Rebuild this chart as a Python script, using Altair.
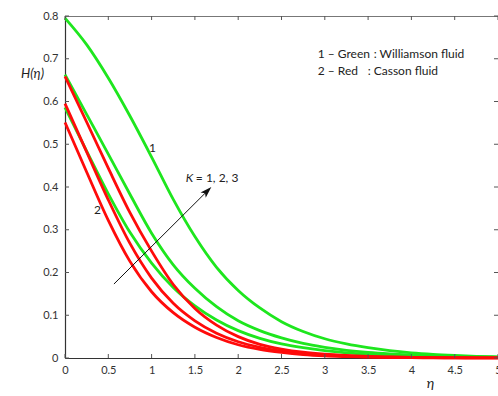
import altair as alt
import pandas as pd

# similarity variable
eta = [0, 0.25, 0.5, 0.75, 1, 1.25, 1.5, 1.75, 2, 2.25, 2.5, 2.75, 3,
       3.25, 3.5, 3.75, 4, 4.25, 4.5, 4.75, 5]

# Williamson fluid (green), K = 1, 2, 3
green_k1 = [0.795, 0.733, 0.655, 0.566, 0.470, 0.371, 0.284, 0.212, 0.158,
            0.117, 0.085, 0.062, 0.045, 0.033, 0.024, 0.017, 0.012, 0.0085,
            0.006, 0.004, 0.0028]
green_k2 = [0.663, 0.570, 0.477, 0.383, 0.292, 0.218, 0.163, 0.120, 0.087,
            0.064, 0.047, 0.034, 0.025, 0.018, 0.013, 0.0095, 0.007, 0.005,
            0.0036, 0.0026, 0.0019]
green_k3 = [0.586, 0.484, 0.384, 0.294, 0.222, 0.165, 0.122, 0.089, 0.064,
            0.046, 0.033, 0.024, 0.017, 0.012, 0.0085, 0.006, 0.0043, 0.003,
            0.0022, 0.0015, 0.001]

# Casson fluid (red), K = 1, 2, 3
red_k1 = [0.659, 0.552, 0.444, 0.340, 0.250, 0.172, 0.116, 0.077, 0.050,
          0.032, 0.021, 0.0135, 0.0088, 0.0058, 0.0038, 0.0025, 0.0016,
          0.001, 0.0007, 0.0004, 0.0002]
red_k2 = [0.595, 0.482, 0.370, 0.268, 0.187, 0.128, 0.087, 0.058, 0.038,
          0.025, 0.016, 0.010, 0.0065, 0.0042, 0.0027, 0.0017, 0.0011,
          0.0007, 0.0004, 0.0002, 0.0001]
red_k3 = [0.551, 0.435, 0.322, 0.226, 0.155, 0.106, 0.072, 0.048, 0.031,
          0.020, 0.013, 0.008, 0.005, 0.0033, 0.002, 0.0013, 0.0008,
          0.0005, 0.0003, 0.0002, 0.0001]

x_ticks = [0, 0.5, 1, 1.5, 2, 2.5, 3, 3.5, 4, 4.5, 5]
y_ticks = [0, 0.1, 0.2, 0.3, 0.4, 0.5, 0.6, 0.7, 0.8]

# K arrow: shaft from tail to just behind the tip, head centred near the tip
arrow_eta = [0.565, 1.66]
arrow_h = [0.173, 0.394]
head_eta = [1.64]
head_h = [0.390]

# curve numbers and the legend block
note_text = ["1", "2"]
note_eta = [1.009, 0.375]
note_h = [0.491, 0.346]

left_text = ["= 1, 2, 3", "1 – Green", ": Williamson fluid",
             "2 – Red", ": Casson fluid"]
left_eta = [1.511, 2.918, 3.564, 2.918, 3.495]
left_h = [0.421, 0.712, 0.712, 0.6715, 0.6715]

FONT = "Lato"
GREEN = "#1ee61e"
RED = "#ff0a0a"
INK = "#222222"

x_scale = alt.Scale(domain=[0, 5], nice=False, zero=False)
y_scale = alt.Scale(domain=[0, 0.8], nice=False)

x_axis = alt.Axis(
    values=x_ticks, format="~g", grid=False, ticks=False, tickSize=0,
    domainColor="#333333", domainWidth=1.2, labelFont=FONT, labelFontSize=11,
    labelColor="#333333", labelPadding=6, labelFlush=False,
    title="η", titleFont=FONT, titleFontSize=14, titleFontStyle="italic",
    titleFontWeight="normal", titleColor=INK, titleX=365, titleY=25,
    titleAlign="center", titleBaseline="middle",
)
y_axis = alt.Axis(
    values=y_ticks, format="~g", grid=False, ticks=False, tickSize=0,
    domainColor="#333333", domainWidth=1.2, labelFont=FONT, labelFontSize=11,
    labelColor="#333333", labelPadding=7,
    title="H(η)", titleFont=FONT, titleFontSize=13, titleFontStyle="italic",
    titleFontWeight="normal", titleColor=INK, titleAngle=0,
    titleX=-33, titleY=57, titleAlign="center", titleBaseline="middle",
)

X = alt.X("eta:Q", scale=x_scale, axis=x_axis)
Y = alt.Y("H:Q", scale=y_scale, axis=y_axis)


def curves(series):
    rows = []
    for name, vals in series.items():
        for e, h in zip(eta, vals):
            rows.append({"curve": name, "eta": e, "H": h})
    return pd.DataFrame(rows)


greens = curves({"g1": green_k1, "g2": green_k2, "g3": green_k3})
reds = curves({"r1": red_k1, "r2": red_k2, "r3": red_k3})

green_lines = alt.Chart(greens).mark_line(
    color=GREEN, strokeWidth=2.8, interpolate="monotone"
).encode(x=X, y=Y, detail="curve:N")

red_lines = alt.Chart(reds).mark_line(
    color=RED, strokeWidth=2.8, interpolate="monotone"
).encode(x=X, y=Y, detail="curve:N")

# short inward ticks on all four sides of the frame
tick_style = dict(color="#555555", strokeWidth=1)
bottom_df = pd.DataFrame({"eta": x_ticks, "H": [0.0] * len(x_ticks)})
top_df = pd.DataFrame({"eta": x_ticks, "H": [0.8] * len(x_ticks)})
left_df = pd.DataFrame({"eta": [0.0] * len(y_ticks), "H": y_ticks})
right_df = pd.DataFrame({"eta": [5.0] * len(y_ticks), "H": y_ticks})

bottom_ticks = alt.Chart(bottom_df).mark_rule(y2Offset=-4, **tick_style).encode(
    x=X, y=Y, y2="H:Q")
top_ticks = alt.Chart(top_df).mark_rule(y2Offset=4, **tick_style).encode(
    x=X, y=Y, y2="H:Q")
left_ticks = alt.Chart(left_df).mark_rule(x2Offset=4, **tick_style).encode(
    x=X, y=Y, x2="eta:Q")
right_ticks = alt.Chart(right_df).mark_rule(x2Offset=-4, **tick_style).encode(
    x=X, y=Y, x2="eta:Q")

arrow_df = pd.DataFrame({"eta": [arrow_eta[0]], "H": [arrow_h[0]],
                         "eta2": [arrow_eta[1]], "H2": [arrow_h[1]]})
arrow = alt.Chart(arrow_df).mark_rule(color="#111111", strokeWidth=1).encode(
    x=X, y=Y, x2="eta2:Q", y2="H2:Q")

head = alt.Chart(pd.DataFrame({"eta": head_eta, "H": head_h})).mark_point(
    shape="M0,-1L0.6,0.9L0,0.45L-0.6,0.9Z", angle=45, size=150,
    filled=True, color="#111111", opacity=1,
).encode(x=X, y=Y)

centered = alt.Chart(pd.DataFrame({"t": note_text, "eta": note_eta, "H": note_h})).mark_text(
    font=FONT, fontSize=12, color=INK, align="center", baseline="middle"
).encode(x=X, y=Y, text="t:N")

left_notes = alt.Chart(pd.DataFrame({"t": left_text, "eta": left_eta, "H": left_h})).mark_text(
    font=FONT, fontSize=12, color=INK, align="left", baseline="middle"
).encode(x=X, y=Y, text="t:N")

k_label = alt.Chart(pd.DataFrame({"t": ["K"], "eta": [1.436], "H": [0.421]})).mark_text(
    font=FONT, fontSize=12, fontStyle="italic", color=INK,
    align="center", baseline="middle"
).encode(x=X, y=Y, text="t:N")

chart = alt.layer(
    green_lines, red_lines, bottom_ticks, top_ticks, left_ticks, right_ticks,
    arrow, head, centered, left_notes, k_label,
).properties(
    width=433, height=342,
    padding={"left": 65, "top": 16, "right": 0, "bottom": 38},
    autosize=alt.AutoSizeParams(type="none"),
    background="white",
).configure_view(stroke="#777777", strokeWidth=1)

chart.save("out.html", embed_options={"renderer": "svg", "actions": False})
